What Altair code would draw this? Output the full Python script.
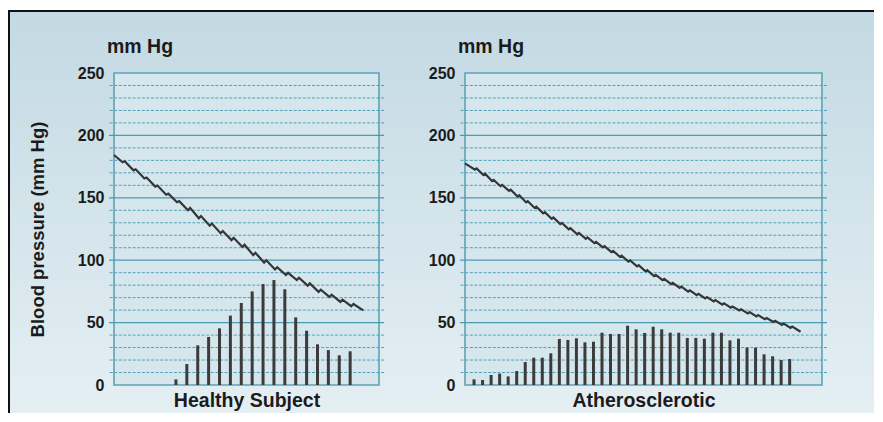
import altair as alt
import pandas as pd

FONT = "Liberation Sans, Arial, Helvetica, sans-serif"
INK = "#1b1b1b"

# ---- axis / grid values ----
Y_LABELS = [0, 50, 100, 150, 200, 250]
MAJOR_GRID = [50, 100, 150, 200]
MINOR_GRID = [10, 20, 30, 40, 60, 70, 80, 90, 110, 120, 130, 140,
              160, 170, 180, 190, 210, 220, 230, 240]

PANEL_TITLES = ["Healthy Subject", "Atherosclerotic"]
Y_TITLE = "Blood pressure (mm Hg)"
UNIT_LABEL = "mm Hg"

# ---- healthy subject: pulse-wave bars (mm Hg) ----
H_BARS = [4.5, 16.8, 31.8, 38.5, 45.4, 55.6, 65.7, 75.0, 80.9, 84.1,
          76.7, 54.2, 43.5, 32.6, 28.0, 23.8, 27.0]
H_DOMAIN = [-5.69, 18.65]

# ---- healthy subject: mean pressure line ----
H_LINE_X = [-5.69, -4.9, -4.7, -3.9, -3.7, -2.9, -2.7, -1.9, -1.7, -0.9, -0.7,
            0.1, 0.3, 1.1, 1.3, 2.1, 2.3, 3.1, 3.3, 4.1, 4.3, 5.1, 5.3,
            6.1, 6.3, 7.1, 7.3, 8.1, 8.3, 9.1, 9.3, 10.1, 10.3, 11.1, 11.3,
            12.1, 12.3, 13.1, 13.3, 14.1, 14.3, 15.1, 15.3, 16.1, 16.3, 17.2]
H_LINE_Y = [184.3, 178.5, 179.3, 172.0, 172.8, 165.5, 166.3, 159.0, 159.8, 152.5, 153.3,
            146.5, 147.3, 140.1, 141.9, 133.6, 135.4, 127.6, 129.4, 121.6, 123.4, 116.1, 117.9,
            110.6, 112.4, 104.1, 105.9, 98.1, 99.9, 92.6, 94.4, 88.1, 89.9, 84.1, 85.9,
            79.6, 81.4, 74.6, 76.4, 70.6, 72.4, 66.6, 68.4, 63.1, 64.9, 59.8]

# ---- atherosclerotic: pulse-wave bars (mm Hg) ----
A_BARS = [4.5, 4.0, 8.0, 9.1, 6.9, 11.2, 18.4, 21.9, 21.9, 25.4,
          36.9, 36.1, 37.4, 34.2, 34.7, 41.9, 40.9, 40.9, 47.5, 44.6,
          41.7, 46.7, 44.6, 41.9, 41.9, 37.7, 37.7, 37.1, 41.9, 41.9,
          35.8, 37.1, 29.9, 29.9, 24.6, 23.0, 20.0, 20.8]
A_DOMAIN = [-1.06, 40.79]

# ---- atherosclerotic: mean pressure line ----
A_LINE_X = [-1.06,
            0.1, 0.3, 1.1, 1.3, 2.1, 2.3, 3.1, 3.3, 4.1, 4.3, 5.1, 5.3,
            6.1, 6.3, 7.1, 7.3, 8.1, 8.3, 9.1, 9.3, 10.1, 10.3, 11.1, 11.3,
            12.1, 12.3, 13.1, 13.3, 14.1, 14.3, 15.1, 15.3, 16.1, 16.3,
            17.1, 17.3, 18.1, 18.3, 19.1, 19.3, 20.1, 20.3, 21.1, 21.3,
            22.1, 22.3, 23.1, 23.3, 24.1, 24.3, 25.1, 25.3, 26.1, 26.3,
            27.1, 27.3, 28.1, 28.3, 29.1, 29.3, 30.1, 30.3, 31.1, 31.3,
            32.1, 32.3, 33.1, 33.3, 34.1, 34.3, 35.1, 35.3, 36.1, 36.3,
            37.1, 37.3, 38.28]
A_LINE_Y = [177.6,
            172.6, 173.6, 168.3, 169.3, 163.4, 164.4, 159.3, 160.3, 155.5, 156.5, 151.0, 152.0,
            146.3, 147.3, 141.9, 142.9, 137.5, 138.5, 133.2, 134.2, 128.9, 129.9, 124.7, 125.7,
            120.8, 121.8, 117.2, 118.2, 113.7, 114.7, 110.2, 111.2, 106.5, 107.5,
            102.7, 103.7, 98.9, 99.9, 95.1, 96.1, 91.1, 92.1, 87.3, 88.3,
            84.1, 85.1, 80.9, 81.9, 77.8, 78.8, 74.8, 75.8, 72.0, 73.0,
            69.4, 70.4, 67.0, 68.0, 64.4, 65.4, 61.9, 62.9, 59.7, 60.7,
            57.4, 58.4, 55.0, 56.0, 52.7, 53.7, 50.5, 51.5, 48.2, 49.2,
            45.8, 46.8, 42.7]

BG_GRADIENT = alt.LinearGradient(
    gradient="linear",
    stops=[alt.GradientStop(color="#c3d9e3", offset=0),
           alt.GradientStop(color="#e4eff3", offset=1)],
    x1=0, x2=0, y1=0, y2=1,
)

BG_TOP = -63
BG_BOTTOM = 340


def panel(title, bars, lx, ly, domain, width, bg_x, bg_x2, y_title, left_border):
    xs = alt.Scale(domain=domain, nice=False, zero=False)
    ys = alt.Scale(domain=[0, 250], nice=False)
    x_axis = alt.Axis(title=title, labels=False, ticks=False, domain=False, grid=False,
                      titleFont=FONT, titleFontSize=19.5, titleFontWeight="bold",
                      titleColor=INK, titlePadding=6, zindex=1)
    y_kwargs = dict(values=Y_LABELS, grid=False, ticks=False, domain=False,
                    labelFont=FONT, labelFontSize=16, labelFontWeight="bold",
                    labelColor=INK, labelPadding=5, zindex=1, title=y_title)
    if y_title:
        y_kwargs.update(titleFont=FONT, titleFontSize=18.5, titleFontWeight="bold",
                        titleColor=INK, titlePadding=30)
    y_axis = alt.Axis(**y_kwargs)

    one = pd.DataFrame({"a": [0]})
    # page background (gradient) and the black frame edges, drawn as stroke-less rects
    bg = alt.Chart(one).mark_rect(fill=BG_GRADIENT).encode(
        x=alt.value(bg_x), x2=alt.value(bg_x2), y=alt.value(BG_TOP), y2=alt.value(BG_BOTTOM))
    top_edge = alt.Chart(one).mark_rect(fill="#111111").encode(
        x=alt.value(bg_x), x2=alt.value(bg_x2), y=alt.value(BG_TOP), y2=alt.value(BG_TOP + 2))
    layers = [bg, top_edge]
    if left_border:
        layers.append(alt.Chart(one).mark_rect(fill="#111111").encode(
            x=alt.value(bg_x), x2=alt.value(bg_x + 2), y=alt.value(BG_TOP), y2=alt.value(BG_BOTTOM)))

    frame_df = pd.DataFrame({"x0": [domain[0]], "x1": [domain[1]], "y0": [0], "y1": [250]})
    frame = alt.Chart(frame_df).mark_rect(fill="#d6e6ed", stroke="#5ea2b7", strokeWidth=1.6).encode(
        x=alt.X("x0:Q", scale=xs, axis=x_axis), x2="x1:Q",
        y=alt.Y("y0:Q", scale=ys, axis=y_axis), y2="y1:Q")

    minor = alt.Chart(pd.DataFrame({"v": MINOR_GRID})).mark_rule(
        color="#4fa2bc", strokeWidth=1, strokeDash=[3, 1.6]).encode(
        y=alt.Y("v:Q", scale=ys, axis=y_axis))
    major = alt.Chart(pd.DataFrame({"v": MAJOR_GRID})).mark_rule(
        color="#4c9ab2", strokeWidth=1.3).encode(
        y=alt.Y("v:Q", scale=ys, axis=y_axis))

    bar_df = pd.DataFrame({"idx": list(range(len(bars))), "val": bars})
    bar_layer = alt.Chart(bar_df).mark_bar(size=3, color="#3b3b3b").encode(
        x=alt.X("idx:Q", scale=xs, axis=x_axis),
        y=alt.Y("val:Q", scale=ys, axis=y_axis))

    line_df = pd.DataFrame({"t": lx, "p": ly, "o": list(range(len(lx)))})
    line_layer = alt.Chart(line_df).mark_line(color="#363636", strokeWidth=2.2).encode(
        x=alt.X("t:Q", scale=xs, axis=x_axis),
        y=alt.Y("p:Q", scale=ys, axis=y_axis),
        order="o:Q")

    unit = alt.Chart(one).mark_text(
        text=UNIT_LABEL, align="left", baseline="alphabetic", font=FONT,
        fontSize=19.5, fontWeight="bold", color=INK).encode(
        x=alt.value(-2), y=alt.value(-20))

    layers += [frame, minor, major, bar_layer, line_layer, unit]
    return alt.layer(*layers).properties(width=width, height=312)


left = panel(PANEL_TITLES[0], H_BARS, H_LINE_X, H_LINE_Y, H_DOMAIN, 275,
             -101, 311, Y_TITLE, True)
right = panel(PANEL_TITLES[1], A_BARS, A_LINE_X, A_LINE_Y, A_DOMAIN, 367,
              -40, 414, None, False)

chart = alt.hconcat(left, right, spacing=0).properties(
    padding={"left": 0, "top": 2, "right": 0, "bottom": 0}
).configure_view(strokeWidth=0)

chart.save("out.html", embed_options={"renderer": "svg", "actions": False})
